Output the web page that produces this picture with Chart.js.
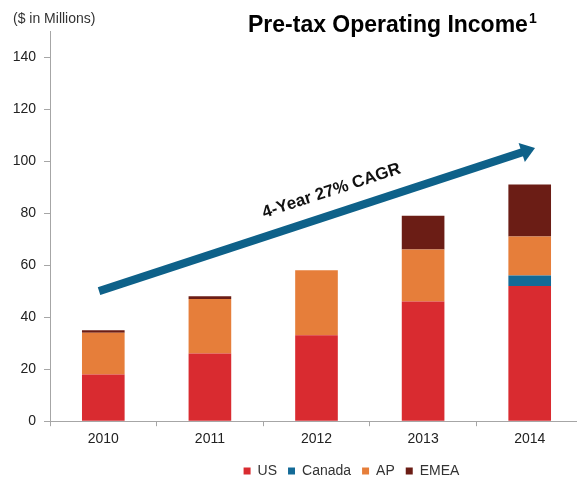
<!DOCTYPE html>
<html>
<head>
<meta charset="utf-8">
<script src="https://cdn.jsdelivr.net/npm/chart.js@4"></script>
<style>
  html, body { margin: 0; padding: 0; background: #fff; overflow: hidden; }
  #wrap { position: relative; width: 584px; height: 488px; }
</style>
</head>
<body>
<div id="wrap"><canvas id="income"></canvas></div>
<script>
(function() {
  'use strict';

  // --- Data ($ in millions) ---
  const years      = ['2010', '2011', '2012', '2013', '2014'];
  const usVals     = [18, 26, 33, 46, 52];
  const canadaVals = [0, 0, 0, 0, 4];
  const apVals     = [16, 21, 25, 20, 15];
  const emeaVals   = [1, 1, 0, 13, 20];
  const yTicks     = [0, 20, 40, 60, 80, 100, 120, 140];

  // growth arrow, in axis units (category index, $M)
  const arrowFrom  = { x: -0.04, y: 50 };
  const arrowTo    = { x: 4.05, y: 105 };
  const arrowLabel = { x: 2.14, y: 88.5, text: '4-Year 27% CAGR' };

  const FONT = '"Liberation Sans", Arial, Helvetica, sans-serif';

  // --- Title, unit note and CAGR arrow ---
  const decorations = {
    id: 'decorations',
    afterDatasetsDraw(chart) {
      const ctx = chart.ctx;
      const xs = chart.scales.x, ys = chart.scales.y;
      const px = v => xs.left + (v + 0.5) * (xs.width / years.length);

      const x0 = px(arrowFrom.x), y0 = ys.getPixelForValue(arrowFrom.y);
      const x1 = px(arrowTo.x),   y1 = ys.getPixelForValue(arrowTo.y);
      const ang = Math.atan2(y1 - y0, x1 - x0);
      const headLen = 14, headHalf = 10;
      const bx = x1 - headLen * Math.cos(ang), by = y1 - headLen * Math.sin(ang);

      ctx.save();
      ctx.strokeStyle = '#0e6189';
      ctx.fillStyle = '#0e6189';
      ctx.lineWidth = 8;
      ctx.lineCap = 'butt';
      ctx.beginPath();
      ctx.moveTo(x0, y0);
      ctx.lineTo(bx + Math.cos(ang), by + Math.sin(ang));
      ctx.stroke();
      ctx.beginPath();
      ctx.moveTo(x1, y1);
      ctx.lineTo(bx + headHalf * Math.sin(ang), by - headHalf * Math.cos(ang));
      ctx.lineTo(bx - headHalf * Math.sin(ang), by + headHalf * Math.cos(ang));
      ctx.closePath();
      ctx.fill();

      // label along the arrow
      ctx.translate(px(arrowLabel.x), ys.getPixelForValue(arrowLabel.y));
      ctx.rotate(ang);
      ctx.fillStyle = '#111';
      ctx.font = 'bold 17px ' + FONT;
      ctx.textAlign = 'center';
      ctx.textBaseline = 'middle';
      ctx.fillText(arrowLabel.text, 0, 0);
      ctx.restore();

      // headings
      ctx.save();
      ctx.fillStyle = '#333';
      ctx.font = '14px ' + FONT;
      ctx.textBaseline = 'alphabetic';
      ctx.fillText('($ in Millions)', 13, 23);

      ctx.fillStyle = '#000';
      ctx.font = 'bold 23px ' + FONT;
      const title = 'Pre-tax Operating Income';
      ctx.fillText(title, 248, 32);
      const w = ctx.measureText(title).width;
      ctx.font = 'bold 14px ' + FONT;
      ctx.fillText('1', 248 + w + 1, 23);
      ctx.restore();
    }
  };

  // shift the bottom legend to sit under the bars' centre
  const legendShift = {
    id: 'legendShift',
    afterLayout(chart) {
      chart.legend.left += 60;
      chart.legend.right += 60;
    }
  };

  const axisGrey = '#a6a6a6';

  new Chart(document.getElementById('income'), {
    type: 'bar',
    data: {
      labels: years,
      datasets: [
        { label: 'US',     data: usVals,     backgroundColor: '#d92b30' },
        { label: 'Canada', data: canadaVals, backgroundColor: '#136a97' },
        { label: 'AP',     data: apVals,     backgroundColor: '#e67e3a' },
        { label: 'EMEA',   data: emeaVals,   backgroundColor: '#6b1d15' }
      ]
    },
    options: {
      responsive: true,
      maintainAspectRatio: false,
      animation: false,
      categoryPercentage: 1,
      barPercentage: 0.4,
      layout: { padding: { top: 31, right: 1, left: 0, bottom: 0 } },
      plugins: {
        tooltip: { enabled: false },
        legend: {
          position: 'bottom',
          labels: {
            boxWidth: 7,
            boxHeight: 7,
            padding: 11,
            color: '#333',
            font: { family: FONT, size: 14 }
          }
        }
      },
      scales: {
        x: {
          stacked: true,
          grid: { drawOnChartArea: false, color: axisGrey, tickLength: 5 },
          border: { color: axisGrey },
          ticks: { color: '#222', padding: 5, font: { family: FONT, size: 14 } }
        },
        y: {
          stacked: true,
          min: 0,
          max: 150,
          afterBuildTicks(scale) {
            scale.ticks = yTicks.map(v => ({ value: v }));
          },
          afterFit(scale) { scale.width = 50; },
          grid: { drawOnChartArea: false, color: axisGrey, tickLength: 6 },
          border: { color: axisGrey },
          ticks: { color: '#222', padding: 8, font: { family: FONT, size: 14 } }
        }
      }
    },
    plugins: [decorations, legendShift]
  });
})();
</script>
</body>
</html>
